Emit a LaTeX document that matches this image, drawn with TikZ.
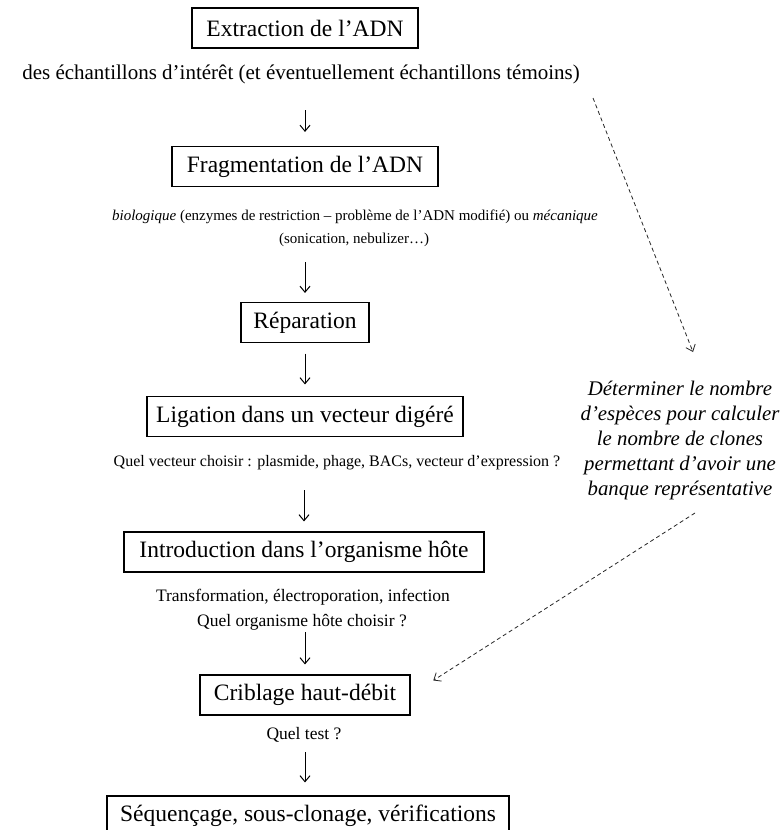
\documentclass[tikz,border=0pt]{standalone}
\usepackage{fontspec}
\setmainfont{Liberation Serif}
\usetikzlibrary{arrows.meta}
\begin{document}
\begin{tikzpicture}[x=1pt,y=-1pt,
  box/.style={draw, line width=1.1pt, inner sep=0pt, minimum height=40pt,
    font=\fontsize{23.5}{28}\selectfont},
  lblA/.style={inner sep=0pt, text height=14pt, text depth=4pt,
    font=\fontsize{21}{25}\selectfont},
  lblB/.style={inner sep=0pt, text height=11pt, text depth=3pt,
    font=\fontsize{15}{18}\selectfont},
  lblC/.style={inner sep=0pt, text height=11.5pt, text depth=3.5pt,
    font=\fontsize{16}{19}\selectfont},
  lblD/.style={inner sep=0pt, text height=12pt, text depth=4pt,
    font=\fontsize{17.5}{21}\selectfont},
  note/.style={inner sep=0pt, align=center,
    font=\fontsize{20.8}{25}\selectfont\itshape},
  arr/.style={-{Straight Barb[length=6pt,width=10pt]}, line width=1pt},
  darr/.style={-{Straight Barb[length=6pt,width=10pt]}, line width=0.8pt,
    dash pattern=on 4pt off 3pt, black!85}]
\useasboundingbox (0,0) rectangle (784,830);
\clip (0,0) rectangle (784,830);
\fill[white] (0,0) rectangle (784,830);

\node[box, minimum width=226pt] (ext) at (305,28) {Extraction de l’ADN};
\node[lblA] (t1) at (301,74) {des échantillons d’intérêt (et éventuellement échantillons témoins)};
\node[box, minimum width=266pt] (frag) at (305,166.5) {Fragmentation de l’ADN};
\node[lblB] (t2a) at (355,216) {\textit{biologique} (enzymes de restriction – problème de l’ADN modifié) ou \textit{mécanique}};
\node[lblB] (t2b) at (354,239) {(sonication, nebulizer…)};
\node[box, minimum width=128pt] (rep) at (305,322.5) {Réparation};
\node[box, minimum width=316pt] (lig) at (305,416.5) {Ligation dans un vecteur digéré};
\node[lblC] (t3) at (337,462) {Quel vecteur choisir : plasmide, phage, BACs, vecteur d’expression ?};
\node[box, minimum width=360pt] (intro) at (304,552) {Introduction dans l’organisme hôte};
\node[lblD] (t4a) at (303,597) {Transformation, électroporation, infection};
\node[lblD] (t4b) at (302,622) {Quel organisme hôte choisir ?};
\node[box, minimum width=210pt] (crib) at (305,695) {Criblage haut-débit};
\node[lblD] (t5) at (304,735) {Quel test ?};
\node[box, minimum width=402pt] (seq) at (308,816) {Séquençage, sous-clonage, vérifications};
\node[note] (det) at (680,440) {Déterminer le nombre\\d’espèces pour calculer\\le nombre de clones\\permettant d’avoir une\\banque représentative};

\draw[arr, shorten <=27pt, shorten >=14pt] (t1.south -| frag.north) -- (frag.north);
\draw[arr, shorten <=16pt, shorten >=9pt] (t2b.south -| rep.north) -- (rep.north);
\draw[arr, shorten <=10.5pt, shorten >=11.5pt] (rep.south) -- (lig.north);
\draw[arr, shorten <=20.5pt, shorten >=10pt] (t3.south -| intro.north) -- (intro.north);
\draw[arr, shorten <=2pt, shorten >=10pt] (t4b.south -| crib.north) -- (crib.north);
\draw[arr, shorten <=9pt, shorten >=13pt] (t5.south -| crib.south) -- (crib.south |- seq.north);

\coordinate (d1s) at (593,98);
\coordinate (d1e) at (693,352);
\draw[darr] (d1s) -- (d1e);
\coordinate (d2s) at (695,513);
\draw[darr, shorten >=27pt] (d2s) -- (crib.east);
\end{tikzpicture}
\end{document}
